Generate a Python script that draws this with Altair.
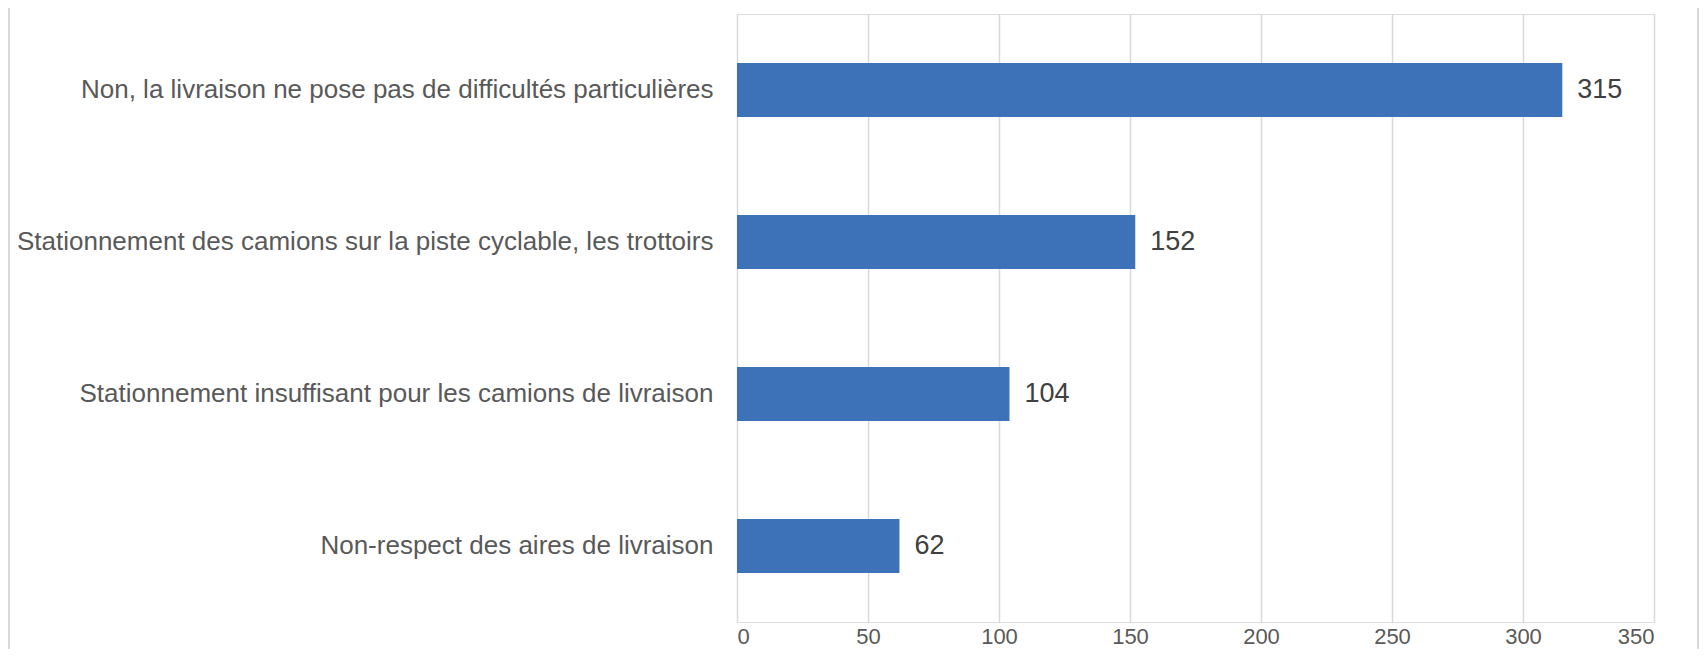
import altair as alt
import pandas as pd

categories = [
    "Non, la livraison ne pose pas de difficultés particulières",
    "Stationnement des camions sur la piste cyclable, les trottoirs",
    "Stationnement insuffisant pour les camions de livraison",
    "Non-respect des aires de livraison",
]
values = [315, 152, 104, 62]
x_ticks = [0, 50, 100, 150, 200, 250, 300, 350]

df = pd.DataFrame({"cat": categories, "val": values})

FONT = "Liberation Sans"
W, H = 917, 608
PAD_L, PAD_T, PAD_R, PAD_B = 729, 6, 46, 27

base = alt.Chart(df)

bars = base.mark_bar(color="#3d72b8").encode(
    y=alt.Y(
        "cat:N",
        sort=categories,
        title=None,
        scale=alt.Scale(paddingInner=0.645, paddingOuter=0.3225),
        axis=alt.Axis(
            ticks=False,
            domain=False,
            labelFont=FONT,
            labelFontSize=26,
            labelColor="#595959",
            labelPadding=24,
            labelLimit=900,
        ),
    ),
    x=alt.X(
        "val:Q",
        title=None,
        scale=alt.Scale(domain=[0, 350], nice=False),
        axis=alt.Axis(
            values=x_ticks,
            ticks=False,
            domain=False,
            grid=True,
            gridColor="#d9d9d9",
            gridWidth=1.5,
            labelFont=FONT,
            labelFontSize=22,
            labelColor="#595959",
            labelPadding=4,
        ),
    ),
)

text = base.mark_text(
    align="left", baseline="middle", dx=15, font=FONT, fontSize=27, color="#404040"
).encode(
    y=alt.Y("cat:N", sort=categories),
    x="val:Q",
    text="val:Q",
)

frame = pd.DataFrame({"side": ["left", "right"]})
left_rule = alt.Chart(frame.iloc[:1]).mark_rule(color="#d9d9d9", strokeWidth=2).encode(
    x=alt.value(-728), y=alt.value(-PAD_T), y2=alt.value(H + PAD_B)
)
right_rule = alt.Chart(frame.iloc[1:]).mark_rule(color="#d9d9d9", strokeWidth=2).encode(
    x=alt.value(W + 44), y=alt.value(-PAD_T), y2=alt.value(H + PAD_B)
)

chart = (
    alt.layer(bars, text, left_rule, right_rule)
    .properties(
        width=W,
        height=H,
        autosize=alt.AutoSizeParams(type="none"),
        padding={"left": PAD_L, "top": PAD_T, "right": PAD_R, "bottom": PAD_B},
    )
    .configure_view(stroke=None)
    .configure(background="white")
)

chart.save("out.html", embed_options={"renderer": "svg", "actions": False})
